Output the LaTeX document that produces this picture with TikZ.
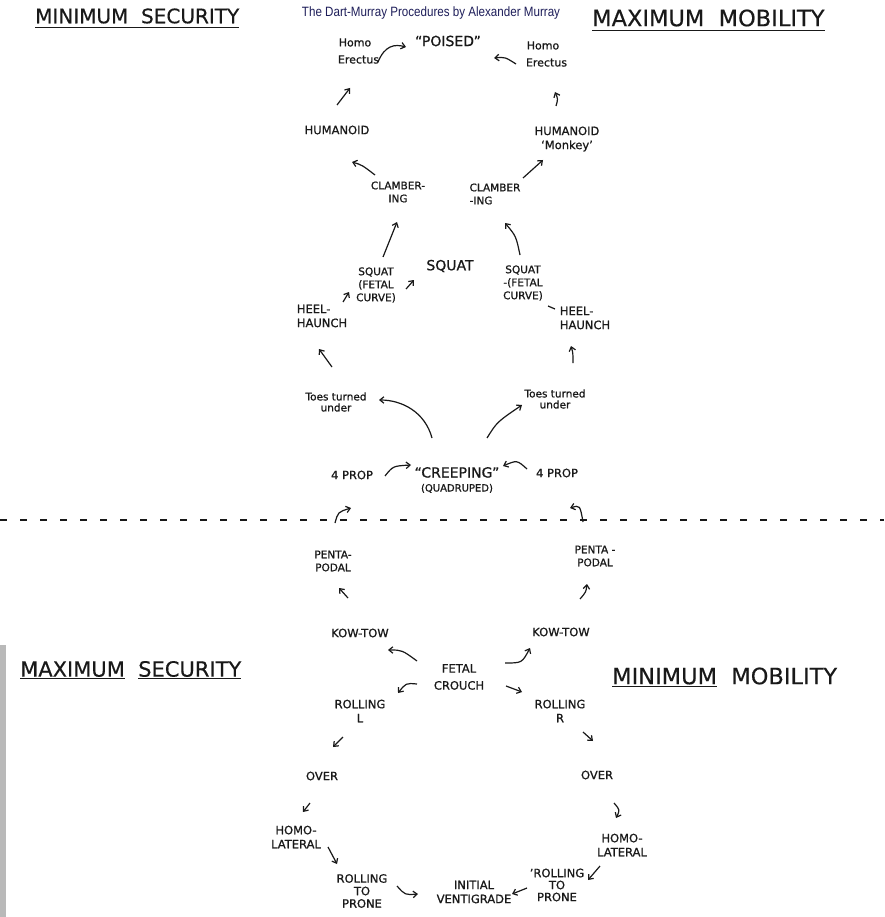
\documentclass[tikz,border=0pt]{standalone}
\usepackage{fontspec}
\setmainfont{DejaVu Sans}
\newfontfamily\hand[FakeBold=0.9,Ligatures=TeX]{DejaVu Sans}
\newfontfamily\headfont[FakeBold=0.4,Ligatures=TeX]{DejaVu Sans}
\newfontfamily\titlefont[FakeStretch=0.86]{Liberation Sans}
\usetikzlibrary{arrows.meta}
\definecolor{ink}{RGB}{25,25,25}
\definecolor{titleblue}{RGB}{30,30,90}
\begin{document}
\begin{tikzpicture}[x=1pt,y=-1pt,
  lab/.style={font=\hand\fontsize{11.5}{14}\selectfont, align=center, inner sep=0pt, text=ink},
  labs/.style={font=\hand\fontsize{10.5}{13}\selectfont, align=center, inner sep=0pt, text=ink},
  mixed/.style={font=\hand\fontsize{11}{17}\selectfont, align=center, inner sep=0pt, text=ink},
  big/.style={font=\hand\fontsize{14}{16}\selectfont, align=center, inner sep=0pt, text=ink},
  head/.style={inner sep=0pt, anchor=west, text=ink},
  arr/.style={line width=1.2pt, draw=ink, -{Straight Barb[length=4pt,width=6.5pt]}},
  ul/.style={line width=1.2pt, draw=ink}]
\useasboundingbox (0,0) rectangle (884,917);
\fill[white] (0,0) rectangle (884,917);
\fill[gray!55] (0,645) rectangle (6,917);

% headings
\node[head, font=\headfont\fontsize{20}{22}\selectfont] (minsec) at (35,16) {MINIMUM\ \ SECURITY};
\draw[ul] ([yshift=-4pt]minsec.south west) -- ([yshift=-4pt]minsec.south east);
\node[head, font=\headfont\fontsize{22.5}{24}\selectfont] (maxmob) at (592,18) {MAXIMUM\ \ MOBILITY};
\draw[ul] ([yshift=-4pt]maxmob.south west) -- ([yshift=-4pt]maxmob.south east);
\node[head, font=\headfont\fontsize{21}{23}\selectfont] (maxsec) at (20,670) {\underline{MAXIMUM}\ \ \underline{SECURITY}};
\node[head, font=\headfont\fontsize{22.5}{24}\selectfont] (minmob) at (612,677) {\underline{MINIMUM}\ \ MOBILITY};
\node[font=\titlefont\fontsize{13.5}{14}\selectfont, text=titleblue, inner sep=0pt] (title) at (431,13) {The Dart-Murray Procedures by Alexander Murray};

% top
\node[big] (poised) at (448,41) {“POISED”};
\node[mixed] (erL) at (355,51) {Homo\\\ \ Erectus};
\node[mixed] (erR) at (543,54) {Homo\\\ \ Erectus};
\node[lab] (humL) at (337,130) {HUMANOID};
\node[lab] (humR) at (567,139) {HUMANOID\\‘Monkey’};
\node[labs] (clL) at (398,192) {CLAMBER-\\ING};
\node[labs, align=left] (clR) at (495,194) {CLAMBER\\-ING};
\node[big] (squat) at (450,266) {SQUAT};
\node[labs] (sqL) at (376,285) {SQUAT\\(FETAL\\CURVE)};
\node[labs] (sqR) at (523,283) {SQUAT\\-(FETAL\\CURVE)};
\node[lab, align=left] (heelL) at (322,316) {HEEL-\\HAUNCH};
\node[lab, align=left] (heelR) at (585,318) {HEEL-\\HAUNCH};
\node[mixed, font=\hand\fontsize{10.5}{11}\selectfont] (toesL) at (336,402) {Toes turned\\under};
\node[mixed, font=\hand\fontsize{10.5}{11}\selectfont] (toesR) at (555,399) {Toes turned\\under};
\node[lab] (propL) at (352,475) {4 PROP};
\node[lab] (propR) at (557,473) {4 PROP};
\node[big] (creep) at (457,480) {“CREEPING”\\[-2pt]{\fontsize{10}{11}\selectfont (QUADRUPED)}};

% bottom
\node[labs] (pentL) at (333,561) {PENTA-\\PODAL};
\node[labs] (pentR) at (595,556) {PENTA -\\PODAL};
\node[lab] (kowL) at (360,633) {KOW-TOW};
\node[lab] (kowR) at (561,632) {KOW-TOW};
\node[lab] (fetal) at (459,677) {FETAL\\[3pt]CROUCH};
\node[lab] (rolL) at (360,711) {ROLLING\\L};
\node[lab] (rolR) at (560,711) {ROLLING\\R};
\node[lab] (overL) at (322,776) {OVER};
\node[lab] (overR) at (597,775) {OVER};
\node[lab] (homL) at (296,837) {HOMO-\\LATERAL};
\node[lab] (homR) at (622,845) {HOMO-\\LATERAL};
\node[lab, font=\hand\fontsize{11.5}{12.5}\selectfont] (rtpL) at (362,891) {ROLLING\\TO\\PRONE};
\node[lab, font=\hand\fontsize{11.5}{12}\selectfont] (rtpR) at (557,885) {’ROLLING\\TO\\PRONE};
\node[lab] (init) at (474,892) {INITIAL\\VENTIGRADE};

% dashed divider
\coordinate (dl) at (0,520);
\coordinate (dr) at (884,520);
\draw[line width=1.5pt, draw=ink, dash pattern=on 7pt off 13pt] (dl) -- (dr);

% arrow end points
\coordinate (a1s) at (378,62);  \coordinate (a1e) at (406,47);
\coordinate (a2s) at (516,64);  \coordinate (a2e) at (494,58);
\coordinate (a3s) at (337,105); \coordinate (a3e) at (350,88);
\coordinate (a4s) at (556,106); \coordinate (a4e) at (555,92);
\coordinate (a5s) at (375,175); \coordinate (a5e) at (352,162);
\coordinate (a6s) at (523,178); \coordinate (a6e) at (543,160);
\coordinate (a7s) at (383,257); \coordinate (a7e) at (397,222);
\coordinate (a8s) at (520,255); \coordinate (a8e) at (505,223);
\coordinate (a9s) at (406,289); \coordinate (a9e) at (414,280);
\coordinate (a10s) at (343,302); \coordinate (a10e) at (349,292);
\coordinate (a12s) at (548,306); \coordinate (a12e) at (555,309);
\coordinate (a13s) at (332,367); \coordinate (a13e) at (319,349);
\coordinate (a14s) at (573,363); \coordinate (a14e) at (571,346);
\coordinate (a15s) at (432,438); \coordinate (a15e) at (379,400);
\coordinate (a16s) at (487,438); \coordinate (a16e) at (522,405);
\coordinate (a17s) at (385,476); \coordinate (a17e) at (411,465);
\coordinate (a18s) at (527,469); \coordinate (a18e) at (503,466);
\coordinate (a20s) at (335,523); \coordinate (a20e) at (351,508);
\coordinate (a21s) at (583,522); \coordinate (a21e) at (570,508);
\coordinate (a22s) at (348,598); \coordinate (a22e) at (339,588);
\coordinate (a23s) at (580,599); \coordinate (a23e) at (587,584);
\coordinate (a24s) at (417,661); \coordinate (a24e) at (388,650);
\coordinate (a25s) at (505,663); \coordinate (a25e) at (530,648);
\coordinate (a26s) at (417,684); \coordinate (a26e) at (398,693);
\coordinate (a27s) at (506,686); \coordinate (a27e) at (522,692);
\coordinate (a28s) at (343,737); \coordinate (a28e) at (333,747);
\coordinate (a29s) at (583,732); \coordinate (a29e) at (593,741);
\coordinate (a30s) at (310,803); \coordinate (a30e) at (303,812);
\coordinate (a31s) at (614,803); \coordinate (a31e) at (616,818);
\coordinate (a32s) at (328,847); \coordinate (a32e) at (337,864);
\coordinate (a33s) at (600,866); \coordinate (a33e) at (588,880);
\coordinate (a34s) at (397,886); \coordinate (a34e) at (418,894);
\coordinate (a35s) at (527,888); \coordinate (a35e) at (512,894);

% arrows
\draw[arr] (a1s) .. controls (385,45) and (395,44) .. (a1e);
\draw[arr] (a2s) .. controls (505,57) .. (a2e);
\draw[arr] (a3s) -- (a3e);
\draw[arr] (a4s) .. controls (558,99) .. (a4e);
\draw[arr] (a5s) .. controls (362,165) .. (a5e);
\draw[arr] (a6s) -- (a6e);
\draw[arr] (a7s) -- (a7e);
\draw[arr] (a8s) .. controls (516,236) .. (a8e);
\draw[arr] (a9s) -- (a9e);
\draw[arr] (a10s) -- (a10e);
\draw[line width=1.2pt, draw=ink] (a12s) -- (a12e);
\draw[arr] (a13s) -- (a13e);
\draw[arr] (a14s) .. controls (573,353) .. (a14e);
\draw[arr] (a15s) .. controls (425,412) and (402,400) .. (a15e);
\draw[arr] (a16s) .. controls (497,422) .. (a16e);
\draw[arr] (a17s) .. controls (393,466) .. (a17e);
\draw[arr] (a18s) .. controls (517,460) .. (a18e);
\draw[arr] (a20s) .. controls (338,512) .. (a20e);
\draw[arr] (a21s) .. controls (580,505) .. (a21e);
\draw[arr] (a22s) -- (a22e);
\draw[arr] (a23s) .. controls (586,592) .. (a23e);
\draw[arr] (a24s) .. controls (402,650) .. (a24e);
\draw[arr] (a25s) .. controls (522,663) .. (a25e);
\draw[arr] (a26s) .. controls (406,683) .. (a26e);
\draw[arr] (a27s) -- (a27e);
\draw[arr] (a28s) -- (a28e);
\draw[arr] (a29s) -- (a29e);
\draw[arr] (a30s) -- (a30e);
\draw[arr] (a31s) .. controls (620,810) .. (a31e);
\draw[arr] (a32s) -- (a32e);
\draw[arr] (a33s) -- (a33e);
\draw[arr] (a34s) .. controls (405,895) .. (a34e);
\draw[arr] (a35s) -- (a35e);
\end{tikzpicture}
\end{document}
